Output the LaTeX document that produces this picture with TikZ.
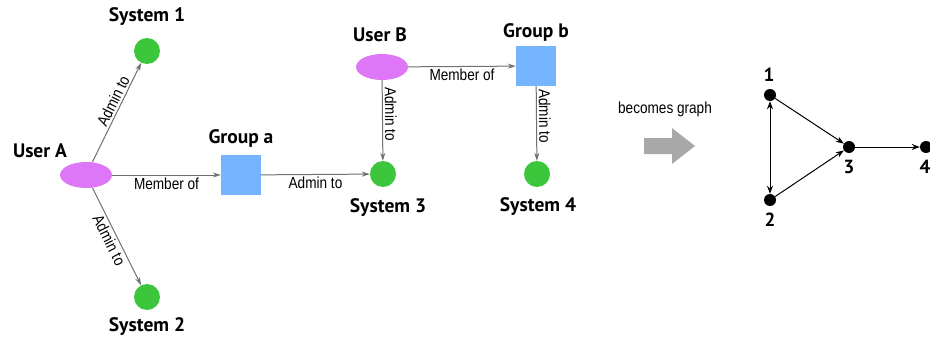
\documentclass[tikz,border=0pt]{standalone}
\usepackage{fontspec}
\setmainfont{PT Sans}
\newfontfamily\lblfont[FakeStretch=0.85]{Liberation Sans}
\usetikzlibrary{arrows.meta,shapes.geometric}
\definecolor{userpink}{HTML}{DD77F7}
\definecolor{groupblue}{HTML}{75B5FF}
\definecolor{sysgreen}{HTML}{3CC63C}
\definecolor{linegray}{HTML}{707070}
\definecolor{bigarrow}{HTML}{A8A8A8}

\tikzset{
  usernode/.style={ellipse,fill=userpink,minimum width=52pt,minimum height=26pt,inner sep=0pt},
  groupnode/.style={rectangle,fill=groupblue,minimum size=40pt,inner sep=0pt},
  sysnode/.style={circle,fill=sysgreen,minimum size=26pt,inner sep=0pt},
  tag/.style={font=\fontsize{19.5}{19.5}\selectfont\bfseries},
  rel/.style={draw=linegray,line width=1pt,-{Stealth[length=8pt,width=5pt]}},
  rellbl/.style={font=\lblfont\fontsize{16}{16}\selectfont,inner sep=2pt},
  vtx/.style={circle,fill=black,minimum size=12pt,inner sep=0pt},
  gedge/.style={draw=black,line width=1pt,-{Stealth[length=8pt,width=6pt]}},
  num/.style={font=\fontsize{19}{19}\selectfont\bfseries}
}

\begin{document}
\begin{tikzpicture}[x=1pt,y=-1pt]
\clip (0,0) rectangle (930,345);
\fill[white] (0,0) rectangle (930,345);

%User A
\node[usernode] (ua) at (86,175) {};
\node[tag] (ualbl) at (40,151) {User A};

%systems 1 and 2
\node[sysnode] (s1) at (147,51) {};
\node[tag] (s1lbl) at (147,17) {System 1};
\node[sysnode] (s2) at (147,297) {};
\node[tag] (s2lbl) at (147,327) {System 2};

%Group a
\node[groupnode] (ga) at (241,175) {};
\node[tag] (galbl) at (241,138) {Group a};

%System 3
\node[sysnode] (s3) at (383,174) {};
\node[tag] (s3lbl) at (388,208) {System 3};

%User B
\node[usernode] (ub) at (382,67) {};
\node[tag] (ublbl) at (380,35) {User B};

%Group b
\node[groupnode] (gb) at (536,66) {};
\node[tag] (gblbl) at (536,32) {Group b};

%System 4
\node[sysnode] (s4) at (537,174) {};
\node[tag] (s4lbl) at (538,207) {System 4};

%relations
\draw[rel] (ua) -- node[rellbl,sloped,above,pos=0.58] {Admin to} (s1);
\draw[rel] (ua) -- node[rellbl,sloped,below,pos=0.5] {Admin to} (s2);
\draw[rel] (ua) -- node[rellbl,below] {Member of} (ga);
\draw[rel] (ga) -- node[rellbl,below] {Admin to} (s3);
\draw[rel] (ub) -- node[rellbl,below] {Member of} (gb);
\draw[rel] (ub) -- node[rellbl,sloped,above,pos=0.42] {Admin to} (s3);
\draw[rel] (gb) -- node[rellbl,sloped,above,pos=0.4] {Admin to} (s4);

%becomes graph
\node[rellbl] (becomes) at (665,109) {becomes graph};
\fill[bigarrow] (644,138) -- (672,138) -- (672,128) -- (695,146) -- (672,164) -- (672,154) -- (644,154) -- cycle;

%graph
\node[vtx] (v1) at (770,95) {};
\node[vtx] (v2) at (770,200) {};
\node[vtx] (v3) at (849,147) {};
\node[vtx] (v4) at (926,147) {};
\node[num] (n1) at (769,75) {1};
\node[num] (n2) at (770,220) {2};
\node[num] (n3) at (849,167) {3};
\node[num] (n4) at (925,167) {4};
\draw[gedge] (v1) -- (v3);
\draw[gedge] (v2) -- (v3);
\draw[gedge] (v3) -- (v4);
\draw[gedge,{Stealth[length=8pt,width=6pt]}-{Stealth[length=8pt,width=6pt]}] (v1) -- (v2);
\end{tikzpicture}
\end{document}
